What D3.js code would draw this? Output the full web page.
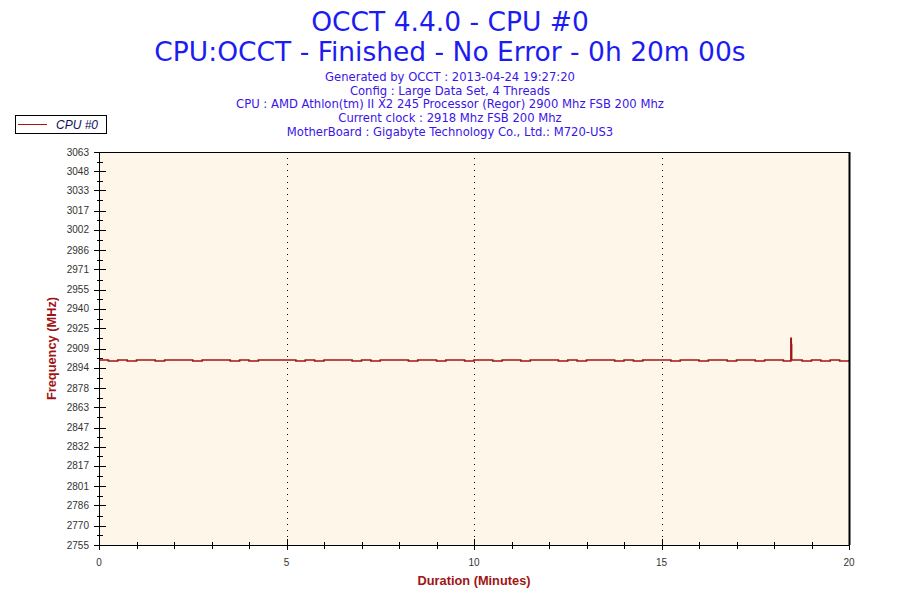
<!DOCTYPE html>
<html>
<head>
<meta charset="utf-8">
<script src="https://cdn.jsdelivr.net/npm/d3@7"></script>
<style>
  body { margin: 0; background: #fff; }
  svg text { font-family: "DejaVu Sans", Verdana, sans-serif; }
</style>
</head>
<body>
<div id="chart"></div>
<script>
// Chart data
const titleLines = ['OCCT 4.4.0 - CPU #0', 'CPU:OCCT - Finished - No Error - 0h 20m 00s'];
const infoLines = [
  'Generated by OCCT : 2013-04-24 19:27:20',
  'Config : Large Data Set, 4 Threads',
  'CPU : AMD Athlon(tm) II X2 245 Processor (Regor) 2900 Mhz FSB 200 Mhz',
  'Current clock : 2918 Mhz FSB 200 Mhz',
  'MotherBoard : Gigabyte Technology Co., Ltd.: M720-US3'
];
const seriesName = 'CPU #0';
const yTicks = [2755, 2770, 2786, 2801, 2817, 2832, 2847, 2863, 2878, 2894, 2909,
  2925, 2940, 2955, 2971, 2986, 3002, 3017, 3033, 3048, 3063];
const xTicks = [0, 5, 10, 15, 20];

const minutes = [0, 0.25, 0.5, 0.75, 1, 1.25, 1.5, 1.75, 2, 2.25, 2.5, 2.75, 3, 3.25, 3.5, 3.75,
  4, 4.25, 4.5, 4.75, 5, 5.25, 5.5, 5.75, 6, 6.25, 6.5, 6.75, 7, 7.25, 7.5, 7.75,
  8, 8.25, 8.5, 8.75, 9, 9.25, 9.5, 9.75, 10, 10.25, 10.5, 10.75, 11, 11.25, 11.5, 11.75,
  12, 12.25, 12.5, 12.75, 13, 13.25, 13.5, 13.75, 14, 14.25, 14.5, 14.75, 15, 15.25, 15.5, 15.75,
  16, 16.25, 16.5, 16.75, 17, 17.25, 17.5, 17.75, 18, 18.25, 18.45, 18.46, 18.47, 18.5, 18.75,
  19, 19.25, 19.5, 19.75, 20];
const freqs = [2900, 2899.2, 2900, 2899.2, 2900, 2900, 2899.2, 2900, 2900, 2900, 2899.2, 2900, 2900, 2900, 2899.2, 2900,
  2899.2, 2900, 2900, 2900, 2900, 2899.2, 2900, 2899.2, 2900, 2900, 2900, 2899.2, 2900, 2899.2, 2900, 2900,
  2900, 2899.2, 2900, 2900, 2899.2, 2900, 2900, 2899.2, 2900, 2900, 2899.2, 2900, 2900, 2899.2, 2900, 2900,
  2900, 2899.2, 2900, 2899.2, 2900, 2900, 2900, 2899.2, 2900, 2899.2, 2900, 2900, 2900, 2899.2, 2900, 2900,
  2899.2, 2900, 2900, 2899.2, 2900, 2900, 2899.2, 2900, 2900, 2899.2, 2917, 2912, 2900, 2900, 2899.2,
  2900, 2899.2, 2900, 2899.2, 2900];

const width = 900;
const height = 600;
const margin = { top: 152, right: 51, bottom: 55, left: 99 };
const plotW = width - margin.left - margin.right;
const plotH = height - margin.top - margin.bottom;

const svg = d3.select('#chart')
  .append('svg')
  .attr('width', width)
  .attr('height', height);

// Titles
titleLines.forEach((t, i) => {
  svg.append('text')
    .attr('x', width / 2)
    .attr('y', 31 + i * 30)
    .attr('text-anchor', 'middle')
    .style('font-size', '26.5px')
    .style('fill', '#1c1cf2')
    .text(t);
});

infoLines.forEach((t, i) => {
  svg.append('text')
    .attr('x', width / 2)
    .attr('y', 81 + i * 13.7)
    .attr('text-anchor', 'middle')
    .style('font-size', '11.6px')
    .style('fill', '#3a14e8')
    .text(t);
});

// Legend
const legend = svg.append('g');
legend.append('rect')
  .attr('x', 15.5).attr('y', 115.5)
  .attr('width', 91).attr('height', 18)
  .style('fill', '#fff').style('stroke', '#000');
legend.append('line')
  .attr('x1', 18).attr('x2', 47).attr('y1', 124.5).attr('y2', 124.5)
  .style('stroke', '#a01414').style('stroke-width', 1);
legend.append('text')
  .attr('x', 56).attr('y', 128.5)
  .style('font-family', '"Liberation Sans", Arial, sans-serif')
  .style('font-style', 'italic')
  .style('font-size', '12px')
  .style('fill', '#101060')
  .text(seriesName);

// Scales
const x = d3.scaleLinear().domain([0, 20]).range([0, plotW]);
const y = d3.scaleLinear().domain([2755, 3063]).range([plotH, 0]);

const g = svg.append('g')
  .attr('transform', `translate(${margin.left},${margin.top})`);

g.append('rect')
  .attr('width', plotW).attr('height', plotH)
  .style('fill', '#fdf6e9');

// Dotted vertical grid
g.selectAll('.grid')
  .data(xTicks.slice(1, -1))
  .join('line')
  .attr('x1', d => Math.round(x(d)) + 0.5)
  .attr('x2', d => Math.round(x(d)) + 0.5)
  .attr('y1', 0).attr('y2', plotH)
  .style('stroke', '#000')
  .style('stroke-dasharray', '1,5');

// Series line
const line = d3.line()
  .x((d, i) => x(minutes[i]))
  .y(d => y(d))
  .curve(d3.curveStepAfter);

g.append('path')
  .datum(freqs)
  .attr('d', line)
  .style('fill', 'none')
  .style('stroke', '#a01414')
  .style('stroke-width', 1.6);

// Frame: top and right border
g.append('line')
  .attr('x1', 0).attr('x2', plotW + 1).attr('y1', 0.5).attr('y2', 0.5)
  .style('stroke', '#000');
g.append('line')
  .attr('x1', plotW + 0.5).attr('x2', plotW + 0.5).attr('y1', 0).attr('y2', plotH)
  .style('stroke', '#000').style('stroke-width', 2);

// Y axis with crossing ticks
const yAxis = g.append('g').attr('class', 'y-axis');
yAxis.append('line')
  .attr('x1', 0.5).attr('x2', 0.5).attr('y1', 0).attr('y2', plotH)
  .style('stroke', '#000');
yAxis.selectAll('.major')
  .data(yTicks)
  .join('line')
  .attr('x1', -5).attr('x2', d => (d === 3063 ? 1 : 7))
  .attr('y1', d => Math.round(y(d)) + 0.5)
  .attr('y2', d => Math.round(y(d)) + 0.5)
  .style('stroke', '#000');
yAxis.selectAll('.minor')
  .data(yTicks.slice(0, -1))
  .join('line')
  .attr('x1', -2).attr('x2', 4)
  .attr('y1', (d, i) => Math.round((y(d) + y(yTicks[i + 1])) / 2) + 0.5)
  .attr('y2', (d, i) => Math.round((y(d) + y(yTicks[i + 1])) / 2) + 0.5)
  .style('stroke', '#000');
yAxis.selectAll('text')
  .data(yTicks)
  .join('text')
  .attr('x', -10)
  .attr('y', d => y(d) + 3.5)
  .attr('text-anchor', 'end')
  .style('font-family', '"Liberation Sans", Arial, sans-serif')
  .style('font-size', '10px')
  .style('fill', '#333')
  .text(d => d);

// X axis with crossing ticks
const xAxis = g.append('g').attr('transform', `translate(0,${plotH})`);
xAxis.append('line')
  .attr('x1', -5).attr('x2', plotW).attr('y1', 0.5).attr('y2', 0.5)
  .style('stroke', '#000');
xAxis.selectAll('.minor')
  .data(d3.range(1, 20).filter(d => d % 5 !== 0))
  .join('line')
  .attr('x1', d => Math.round(x(d)) + 0.5)
  .attr('x2', d => Math.round(x(d)) + 0.5)
  .attr('y1', -3).attr('y2', 4)
  .style('stroke', '#000');
xAxis.selectAll('.major')
  .data(xTicks)
  .join('line')
  .attr('x1', d => Math.round(x(d)) + 0.5)
  .attr('x2', d => Math.round(x(d)) + 0.5)
  .attr('y1', d => (d === 20 ? 0 : -6)).attr('y2', 5)
  .style('stroke', '#000');
xAxis.selectAll('text')
  .data(xTicks)
  .join('text')
  .attr('x', d => x(d))
  .attr('y', 21)
  .attr('text-anchor', 'middle')
  .style('font-family', '"Liberation Sans", Arial, sans-serif')
  .style('font-size', '10px')
  .style('fill', '#333')
  .text(d => d);

// Axis titles
svg.append('text')
  .attr('x', margin.left + plotW / 2)
  .attr('y', 585)
  .attr('text-anchor', 'middle')
  .style('font-family', '"Liberation Sans", Arial, sans-serif')
  .style('font-weight', 'bold')
  .style('font-size', '12.8px')
  .style('fill', '#a01414')
  .text('Duration (Minutes)');

svg.append('text')
  .attr('transform', `translate(56,${margin.top + plotH / 2}) rotate(-90)`)
  .attr('text-anchor', 'middle')
  .style('font-family', '"Liberation Sans", Arial, sans-serif')
  .style('font-weight', 'bold')
  .style('font-size', '12.8px')
  .style('fill', '#a01414')
  .text('Frequency (MHz)');
</script>
</body>
</html>
